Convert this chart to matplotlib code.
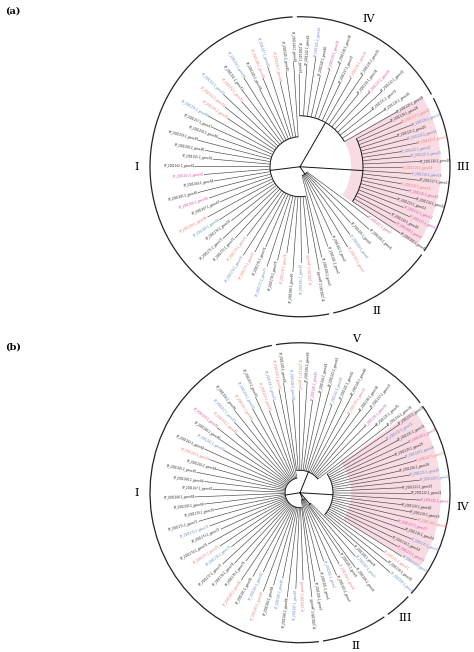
import numpy as np
import matplotlib.pyplot as plt
from matplotlib.patches import Wedge, Arc

# clade data per panel: (label, arc start deg, arc end deg, node radius, tip radius, leaf colours)
# colour codes: k black, r red, b blue, m magenta
clades_a = [
    ("II", -78, -35, 0.06, 0.62, "kkkrbkkm"),
    ("III", -35, 28, 0.42, 0.80, "kmkmmkkmrkbrkbbrbkbrk"),
    ("IV", 28, 92, 0.34, 0.74, "kkkkmkkrkkmkbkk"),
    ("I", 92, 282, 0.20, 0.70, "kkrbrkbkrbrrbkkkkkkmkkmkrbkkkrbrkbkrkbrk"),
]
clades_b = [
    ("II", -82, -55, 0.05, 0.60, "kkbkrk"),
    ("III", -55, -43, 0.10, 0.62, "kbk"),
    ("IV", -43, 36, 0.22, 0.80, "bkrbmkbkmrkkmkkbbkrbkmkbk"),
    ("V", 36, 100, 0.15, 0.74, "kkmkkrkkbkkmkrbk"),
    ("I", 100, 278, 0.10, 0.70, "rbrkbrkbrmkbkrkkkkkkkkbkkrbkkkrkbrkbkbrk"),
]
labels_pos_a = {"I": 180, "II": -62, "III": 0, "IV": 65}
labels_pos_b = {"I": 180, "II": -70, "III": -50, "IV": -5, "V": 70}
wedge_a = (-34, 30)
wedge_b = (-32, 36)

cmap = {"k": "#222222", "r": "#e8766c", "b": "#5b82c4", "m": "#d0489e"}

fig = plt.figure(figsize=(4.74, 6.52), dpi=100)


def draw(ax, clades, lab_pos, wedge):
    ax.set_xlim(-2.0, 1.16)
    ax.set_ylim(-1.06, 1.11)
    ax.set_aspect("equal")
    ax.axis("off")
    ax.add_patch(Wedge((0, 0), 0.94, wedge[0], wedge[1], width=0.6,
                       color="#f9dbe3", lw=0, zorder=0))
    idx = 0
    for name, a0, a1, rn, rt, cols in clades:
        n = len(cols)
        ang = np.linspace(a0 + 1.5, a1 - 1.5, n)
        ax.add_patch(Arc((0, 0), 2 * rn, 2 * rn, theta1=ang[0], theta2=ang[-1], lw=0.7, color="#111"))
        th = np.radians((ang[0] + ang[-1]) / 2)
        ax.plot([0, rn * np.cos(th)], [0, rn * np.sin(th)], color="#111", lw=0.7)
        for j, (a, c) in enumerate(zip(ang, cols)):
            t = np.radians(a)
            tip = rt - 0.06 * (j % 3)
            ax.plot([rn * np.cos(t), tip * np.cos(t)], [rn * np.sin(t), tip * np.sin(t)],
                    color="#444", lw=0.45)
            rot = a if -90 <= a <= 90 else a - 180
            ha = "left" if -90 <= a <= 90 else "right"
            ax.text(tip * np.cos(t), tip * np.sin(t), f"XP_{2001100 + idx}.1_gene{idx}",
                    fontsize=2.0, color=cmap[c], rotation=rot, rotation_mode="anchor",
                    ha=ha, va="center")
            idx += 1
        ax.add_patch(Arc((0, 0), 2.0, 2.0, theta1=a0 + 0.8, theta2=a1 - 0.8, lw=0.9, color="#222"))
        la = np.radians(lab_pos[name])
        ax.text(1.09 * np.cos(la), 1.09 * np.sin(la), name, fontsize=8,
                family="DejaVu Serif", ha="center", va="center")


ax1 = fig.add_axes([0.0, 0.5, 1.0, 0.5])
draw(ax1, clades_a, labels_pos_a, wedge_a)
ax2 = fig.add_axes([0.0, 0.0, 1.0, 0.5])
draw(ax2, clades_b, labels_pos_b, wedge_b)
fig.text(0.01, 0.99, "(a)", fontsize=7, family="DejaVu Serif", weight="bold", va="top")
fig.text(0.01, 0.475, "(b)", fontsize=7, family="DejaVu Serif", weight="bold", va="top")
fig.savefig("out.png", dpi=100, facecolor="white")
